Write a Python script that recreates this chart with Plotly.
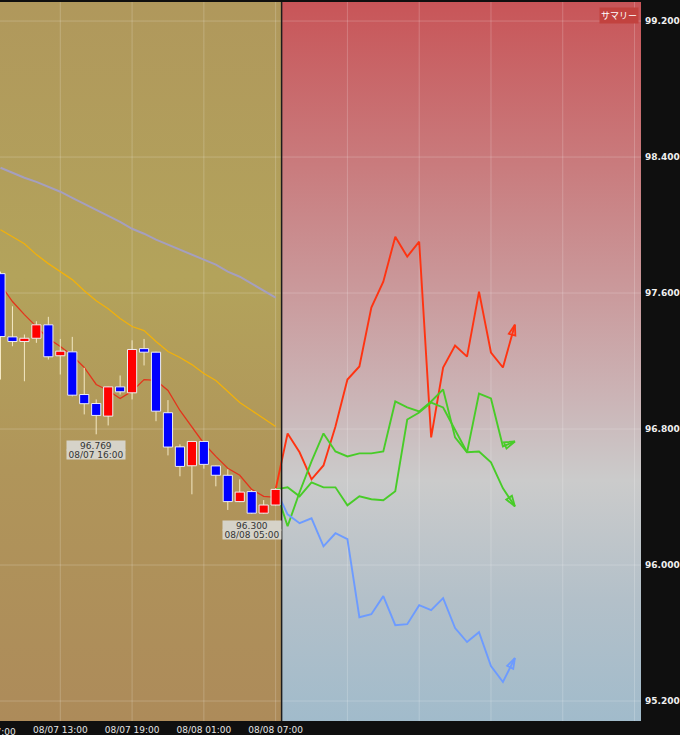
import plotly.graph_objects as go
import pandas as pd

# ---------------- data ----------------
candle_times = pd.date_range("2024-08-07 08:00", "2024-08-08 07:00", freq="h")
opens  = [97.714, 97.342, 97.315, 97.334, 97.413, 97.231, 97.254, 97.003, 96.950, 96.876, 97.048, 97.013,
          97.273, 97.252, 96.896, 96.695, 96.584, 96.727, 96.583, 96.528, 96.373, 96.432, 96.305, 96.353]
highs  = [97.726, 97.522, 97.356, 97.434, 97.460, 97.330, 97.342, 97.160, 96.974, 97.050, 97.115, 97.322,
          97.330, 97.255, 96.970, 96.710, 96.730, 96.730, 96.585, 96.563, 96.504, 96.441, 96.382, 96.452]
lows   = [97.091, 97.287, 97.081, 97.307, 97.209, 97.121, 96.992, 96.886, 96.769, 96.821, 97.003, 96.974,
          97.174, 96.846, 96.645, 96.522, 96.416, 96.567, 96.463, 96.324, 96.370, 96.300, 96.301, 96.350]
closes = [97.344, 97.315, 97.334, 97.413, 97.225, 97.258, 96.999, 96.949, 96.880, 97.048, 97.019, 97.268,
          97.252, 96.905, 96.694, 96.580, 96.727, 96.592, 96.528, 96.373, 96.429, 96.305, 96.353, 96.445]

ma_short = [97.649, 97.550, 97.473, 97.403, 97.332, 97.285, 97.232, 97.162, 97.062, 97.027, 96.980, 97.023,
            97.091, 97.086, 97.027, 96.909, 96.815, 96.715, 96.639, 96.569, 96.528, 96.445, 96.404, 96.398]
ma_mid   = [97.972, 97.931, 97.890, 97.826, 97.773, 97.726, 97.679, 97.614, 97.555, 97.508, 97.450, 97.403,
            97.379, 97.315, 97.256, 97.221, 97.179, 97.127, 97.086, 97.021, 96.956, 96.909, 96.862, 96.815]
ma_long  = [98.337, 98.307, 98.278, 98.254, 98.225, 98.196, 98.160, 98.125, 98.090, 98.055, 98.019, 97.978,
            97.949, 97.914, 97.884, 97.855, 97.826, 97.796, 97.767, 97.726, 97.696, 97.655, 97.614, 97.573]

forecast_times = pd.date_range("2024-08-08 07:00", "2024-08-09 03:00", freq="h")
fc_red     = [96.445, 96.774, 96.663, 96.504, 96.586, 96.815, 97.091, 97.168, 97.514, 97.667, 97.931,
              97.814, 97.902, 96.751, 97.162, 97.291, 97.226, 97.608, 97.250, 97.162, 97.414]
fc_green_a = [96.445, 96.228, 96.428, 96.610, 96.774, 96.668, 96.639, 96.657, 96.657, 96.668, 96.962,
              96.927, 96.903, 96.962, 97.033, 96.751, 96.663, 97.009, 96.980, 96.698, 96.727]
fc_green_b = [96.445, 96.457, 96.404, 96.486, 96.457, 96.457, 96.351, 96.404, 96.387, 96.381, 96.434,
              96.856, 96.897, 96.956, 96.927, 96.798, 96.663, 96.668, 96.604, 96.451, 96.345]
fc_blue    = [96.445, 96.298, 96.246, 96.275, 96.110, 96.187, 96.152, 95.693, 95.711, 95.817, 95.646,
              95.652, 95.764, 95.735, 95.805, 95.629, 95.547, 95.605, 95.406, 95.312, 95.453]

x_tick_times = pd.to_datetime(["2024-08-07 13:00", "2024-08-07 19:00", "2024-08-08 01:00", "2024-08-08 07:00"])
x_tick_labels = ["08/07 13:00", "08/07 19:00", "08/08 01:00", "08/08 07:00"]
clipped_tick_time = pd.Timestamp("2024-08-07 07:00")
clipped_tick_label = "08/07 07:00"
grid_times = pd.date_range("2024-08-07 07:00", "2024-08-09 13:00", freq="6h")
y_ticks = [95.2, 96.0, 96.8, 97.6, 98.4, 99.2]
y_tick_labels = ["95.200", "96.000", "96.800", "97.600", "98.400", "99.200"]

low_labels = [("2024-08-07 16:00", 96.769, "96.769", "08/07 16:00"),
              ("2024-08-08 05:00", 96.300, "96.300", "08/08 05:00")]
summary_label = "サマリー"

x_range = [pd.Timestamp("2024-08-07 07:57:30"), pd.Timestamp("2024-08-09 13:32:30")]
y_range = [95.0825, 99.312]
divider_time = pd.Timestamp("2024-08-08 07:30")
body_half = pd.Timedelta(minutes=23)

# ---------------- figure ----------------
fig = go.Figure()

# backgrounds (gradient fills)
fig.add_trace(go.Scatter(
    x=[x_range[0], divider_time, divider_time, x_range[0], x_range[0]],
    y=[y_range[0], y_range[0], y_range[1], y_range[1], y_range[0]],
    fill="toself", mode="none", hoverinfo="skip", showlegend=False,
    fillgradient=dict(type="vertical", start=y_range[0], stop=y_range[1],
                      colorscale=[[0, "#ad8b5a"], [0.35, "#b0955a"], [0.62, "#b3a35b"], [1, "#b0985c"]])))
fig.add_trace(go.Scatter(
    x=[divider_time, x_range[1], x_range[1], divider_time, divider_time],
    y=[y_range[0], y_range[0], y_range[1], y_range[1], y_range[0]],
    fill="toself", mode="none", hoverinfo="skip", showlegend=False,
    fillgradient=dict(type="vertical", start=y_range[0], stop=y_range[1],
                      colorscale=[[0, "#a1bbcb"], [0.17, "#b3c0c9"], [0.336, "#cbcbcb"],
                                  [0.45, "#cbb4b6"], [0.59, "#ca9b9d"], [0.78, "#c97a7c"],
                                  [1, "#c85558"]])))

# grid lines
gx, gy = [], []
for t in grid_times:
    gx += [t, t, None]
    gy += [y_range[0], y_range[1], None]
for v in y_ticks:
    gx += [x_range[0], x_range[1], None]
    gy += [v, v, None]
fig.add_trace(go.Scatter(x=gx, y=gy, mode="lines", hoverinfo="skip", showlegend=False,
                         line=dict(color="rgba(255,255,255,0.2)", width=1)))

# moving averages
fig.add_trace(go.Scatter(x=candle_times, y=ma_long, mode="lines", showlegend=False,
                         line=dict(color="#a59fbf", width=2)))
fig.add_trace(go.Scatter(x=candle_times, y=ma_mid, mode="lines", showlegend=False,
                         line=dict(color="#f2b10a", width=1.3)))
fig.add_trace(go.Scatter(x=candle_times, y=ma_short, mode="lines", showlegend=False,
                         line=dict(color="#e3341c", width=1.3)))

# forecasts (behind candles)
for vals, col in [(fc_red, "#ff3311"), (fc_green_a, "#48cc28"), (fc_green_b, "#48cc28"), (fc_blue, "#6d9bff")]:
    fig.add_trace(go.Scatter(x=forecast_times, y=vals, mode="lines", showlegend=False,
                             line=dict(color=col, width=1.9)))
    fig.add_trace(go.Scatter(x=forecast_times[-2:], y=vals[-2:], mode="markers", showlegend=False,
                             hoverinfo="skip",
                             marker=dict(symbol="arrow-open", size=11, angleref="previous",
                                         opacity=[0, 1], color=col,
                                         line=dict(color=col, width=1.8))))

# candle wicks
wx, wy = [], []
for t, h, l in zip(candle_times, highs, lows):
    wx += [t, t, None]
    wy += [l, h, None]
fig.add_trace(go.Scatter(x=wx, y=wy, mode="lines", hoverinfo="skip", showlegend=False,
                         line=dict(color="#f3e8c4", width=1)))

# candle bodies (as filled polygons so they stack above the backgrounds)
for up, fillc in [(True, "#ff0000"), (False, "#0000ff")]:
    bx, by = [], []
    for t, o, c in zip(candle_times, opens, closes):
        if (c >= o) != up:
            continue
        bx += [t - body_half, t + body_half, t + body_half, t - body_half, t - body_half, None]
        by += [o, o, c, c, o, None]
    fig.add_trace(go.Scatter(x=bx, y=by, mode="lines", fill="toself", fillcolor=fillc,
                             hoverinfo="skip", showlegend=False,
                             line=dict(color="#eeeef2", width=1)))

# divider
fig.add_shape(type="line", xref="x", yref="paper", x0=divider_time, x1=divider_time, y0=0, y1=1,
              line=dict(color="#1c1c1c", width=1.5), layer="above")

# low labels
for t, v, l1, l2 in low_labels:
    for txt, shift in [(l1, -6), (l2, -15)]:
        fig.add_annotation(x=t, y=v, xref="x", yref="y", text=txt, showarrow=False,
                           yanchor="top", yshift=shift, width=58, height=9, borderpad=0,
                           bgcolor="#d6d3c9", font=dict(family="DejaVu Sans", size=9, color="#333333"))

# summary badge
fig.add_annotation(x=1, y=1, xref="paper", yref="paper", xanchor="right", yanchor="top",
                   xshift=-2, yshift=-5, text=summary_label, showarrow=False,
                   bgcolor="#c2423f", borderpad=1,
                   font=dict(family="Noto Sans CJK JP", size=9, color="#ffffff"))

# clipped tick label at the left edge
frac = (clipped_tick_time - x_range[0]) / (x_range[1] - x_range[0])
fig.add_annotation(x=frac, y=0, xref="paper", yref="paper", xanchor="center", yanchor="top",
                   yshift=-4, text=clipped_tick_label, showarrow=False,
                   font=dict(family="DejaVu Sans", size=9, color="#e6e6e6"))

fig.update_layout(
    width=680, height=735,
    margin=dict(l=0, r=37, t=2, b=13),
    paper_bgcolor="#0f0f0f", plot_bgcolor="#0f0f0f",
    showlegend=False,
    xaxis=dict(type="date", range=x_range, tickvals=x_tick_times, ticktext=x_tick_labels,
               showgrid=False, zeroline=False, ticks="", showline=False,
               ticklabelstandoff=2,
               tickfont=dict(family="DejaVu Sans", size=9, color="#e6e6e6")),
    yaxis=dict(side="right", range=y_range, tickvals=y_ticks, ticktext=y_tick_labels,
               showgrid=False, zeroline=False, ticks="", showline=False,
               ticklabelstandoff=3,
               tickfont=dict(family="DejaVu Sans", size=9, color="#f0f0f0", weight="bold")),
)

fig.write_html("out.html", config={"displayModeBar": False},
               post_script="document.body.style.margin='0';document.body.style.overflow='hidden';")
